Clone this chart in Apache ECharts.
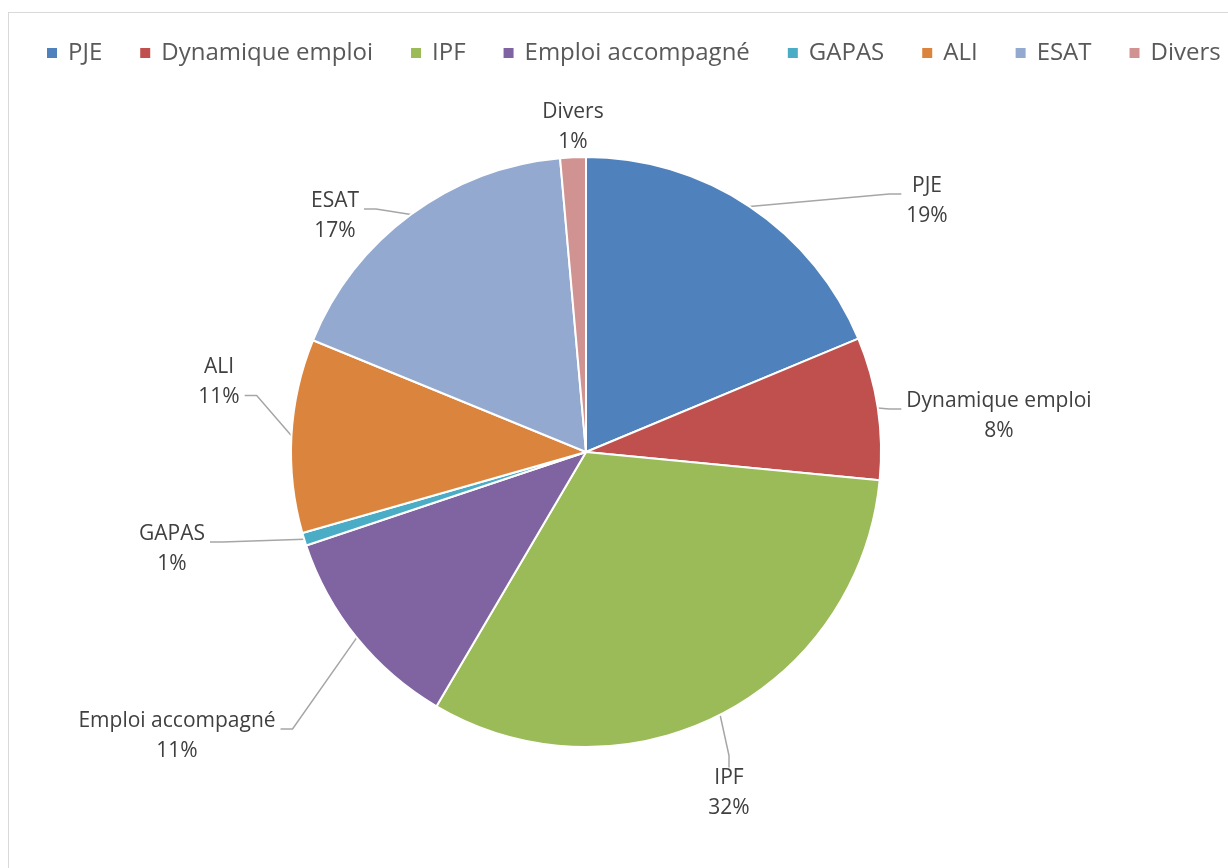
<!DOCTYPE html>
<html>
<head>
<meta charset="utf-8">
<script src="https://cdn.jsdelivr.net/npm/echarts@6/dist/echarts.min.js"></script>
<style>
  html, body { margin: 0; padding: 0; background: #fff; }
  #frame { position: absolute; left: 8px; top: 12px; width: 1240px; height: 880px; border: 1px solid #d9d9d9; box-sizing: border-box; }
  #chart { position: absolute; left: 0; top: 0; width: 1228px; height: 868px; }
</style>
</head>
<body>
<div id="frame"></div>
<div id="chart"></div>
<script>
// categories and values (share of total)
const categories = ['PJE', 'Dynamique emploi', 'IPF', 'Emploi accompagné', 'GAPAS', 'ALI', 'ESAT', 'Divers']
const values = [18.7, 7.8, 31.9, 11.4, 0.7, 10.6, 17.4, 1.4]
const colors = ['#4F81BD', '#C0504D', '#9BBB59', '#8064A2', '#4BACC6', '#DB843D', '#93A9CF', '#D19392']

// where each data label sits (like the manual "best fit" placement of the original)
// [centre x, leader attach y, which text line the leader points at]
const labelPlace = {
  'PJE': [927, 192, 'first'],
  'Dynamique emploi': [999, 407, 'first'],
  'IPF': [729, 793, 'none'],
  'Emploi accompagné': [177, 727, 'first'],
  'GAPAS': [172, 540, 'first'],
  'ALI': [219, 404, 'second'],
  'ESAT': [335, 207, 'first'],
  'Divers': [573, 127, 'none']
}

const myChart = echarts.init(document.getElementById('chart'))
const font = 'Open Sans'

// spacer lines shift the middle of the label box so the leader meets the right line
const labelText = (name, pct) => {
  const mode = labelPlace[name][2]
  const body = '{a|' + name + '}\n{a|' + pct + '%}'
  if (mode === 'first') return '{s1| }\n' + body
  if (mode === 'second') return body + '\n{s2| }'
  return body
}

const option = {
  backgroundColor: 'transparent',
  color: colors,
  legend: {
    top: 36,
    left: 40,
    itemWidth: 12,
    itemHeight: 12,
    itemGap: 36,
    icon: 'rect',
    textStyle: { fontFamily: font, fontSize: 24, color: '#595959', padding: [0, 0, 0, 5] },
    data: categories
  },
  series: [
    {
      type: 'pie',
      center: [586, 452],
      radius: 295,
      startAngle: 90,
      clockwise: true,
      avoidLabelOverlap: false,
      itemStyle: { borderColor: '#fff', borderWidth: 2 },
      label: {
        show: true,
        position: 'outside',
        formatter: p => labelText(p.name, Math.round(p.percent)),
        rich: {
          a: { fontFamily: font, fontSize: 21, color: '#404040', align: 'center', lineHeight: 30, padding: [0, 5, 0, 5] },
          s1: { fontSize: 1, lineHeight: 18 },
          s2: { fontSize: 1, lineHeight: 44 }
        }
      },
      labelLine: {
        show: true,
        length: 10,
        length2: 12,
        lineStyle: { color: '#a6a6a6', width: 1.5 }
      },
      labelLayout: params => {
        const pl = labelPlace[categories[params.dataIndex]]
        return { x: pl[0], y: pl[1], align: 'center', verticalAlign: 'middle' }
      },
      emphasis: { scale: false },
      data: categories.map((c, i) => ({
        name: c,
        value: values[i],
        labelLine: { show: c !== 'Divers' }
      }))
    }
  ]
}
myChart.setOption(option)
</script>
</body>
</html>
